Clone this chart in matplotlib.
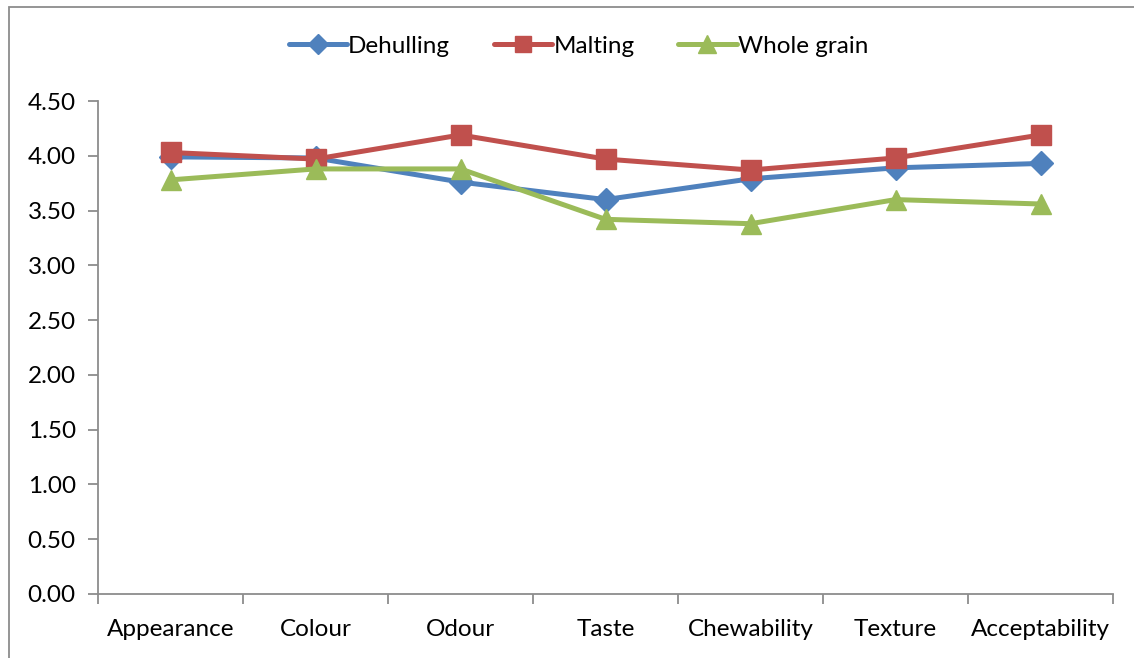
import matplotlib.pyplot as plt
from matplotlib.patches import Rectangle

categories = ["Appearance", "Colour", "Odour", "Taste", "Chewability", "Texture", "Acceptability"]
dehulling = [3.99, 3.98, 3.76, 3.60, 3.79, 3.89, 3.93]
malting = [4.03, 3.97, 4.19, 3.97, 3.87, 3.98, 4.19]
whole_grain = [3.78, 3.88, 3.88, 3.42, 3.38, 3.60, 3.56]

series = [
    ("Dehulling", dehulling, "#4F81BD", "D", 12),
    ("Malting", malting, "#C0504D", "s", 14),
    ("Whole grain", whole_grain, "#9BBB59", "^", 15),
]

plt.rcParams["font.family"] = ["Lato", "DejaVu Sans"]

fig = plt.figure(figsize=(11.34, 6.58), dpi=100)
ax = fig.add_axes([98 / 1134, 1 - 594 / 658, (1113 - 98) / 1134, (594 - 101) / 658])

x = list(range(len(categories)))
for name, vals, color, marker, ms in series:
    ax.plot(x, vals, color=color, lw=3.6, marker=marker, markersize=ms,
            label=name, solid_capstyle="round")

ax.set_ylim(0, 4.5)
ax.set_xlim(-0.5, len(categories) - 0.5)
ax.set_yticks([i * 0.5 for i in range(10)])
ax.set_yticklabels([f"{i * 0.5:.2f}" for i in range(10)])

ax.set_xticks([i - 0.5 for i in range(len(categories) + 1)])
ax.set_xticklabels([])
ax.set_xticks(x, minor=True)
ax.set_xticklabels(categories, minor=True)
ax.tick_params(axis="x", which="minor", length=0, pad=18, labelsize=17.5)
ax.tick_params(axis="x", which="major", length=7, color="#8c8c8c", width=1.3)
ax.tick_params(axis="y", length=7, color="#8c8c8c", width=1.3, labelsize=17.5, pad=9)

for s in ["top", "right"]:
    ax.spines[s].set_visible(False)
for s in ["left", "bottom"]:
    ax.spines[s].set_color("#8c8c8c")
    ax.spines[s].set_linewidth(1.3)

leg = fig.legend(loc="center", bbox_to_anchor=(0.51, 1 - 46 / 658), ncol=3,
                 frameon=False, fontsize=17.5, handlelength=2.4, columnspacing=1.8,
                 handletextpad=0.05, markerscale=0.85)

fig.patches.append(Rectangle((9 / 1134, -0.1), 1.2, 1 - 7 / 658 + 0.1,
                             transform=fig.transFigure, fill=False,
                             edgecolor="#8c8c8c", linewidth=1.3))

fig.savefig("out.png", dpi=100)
